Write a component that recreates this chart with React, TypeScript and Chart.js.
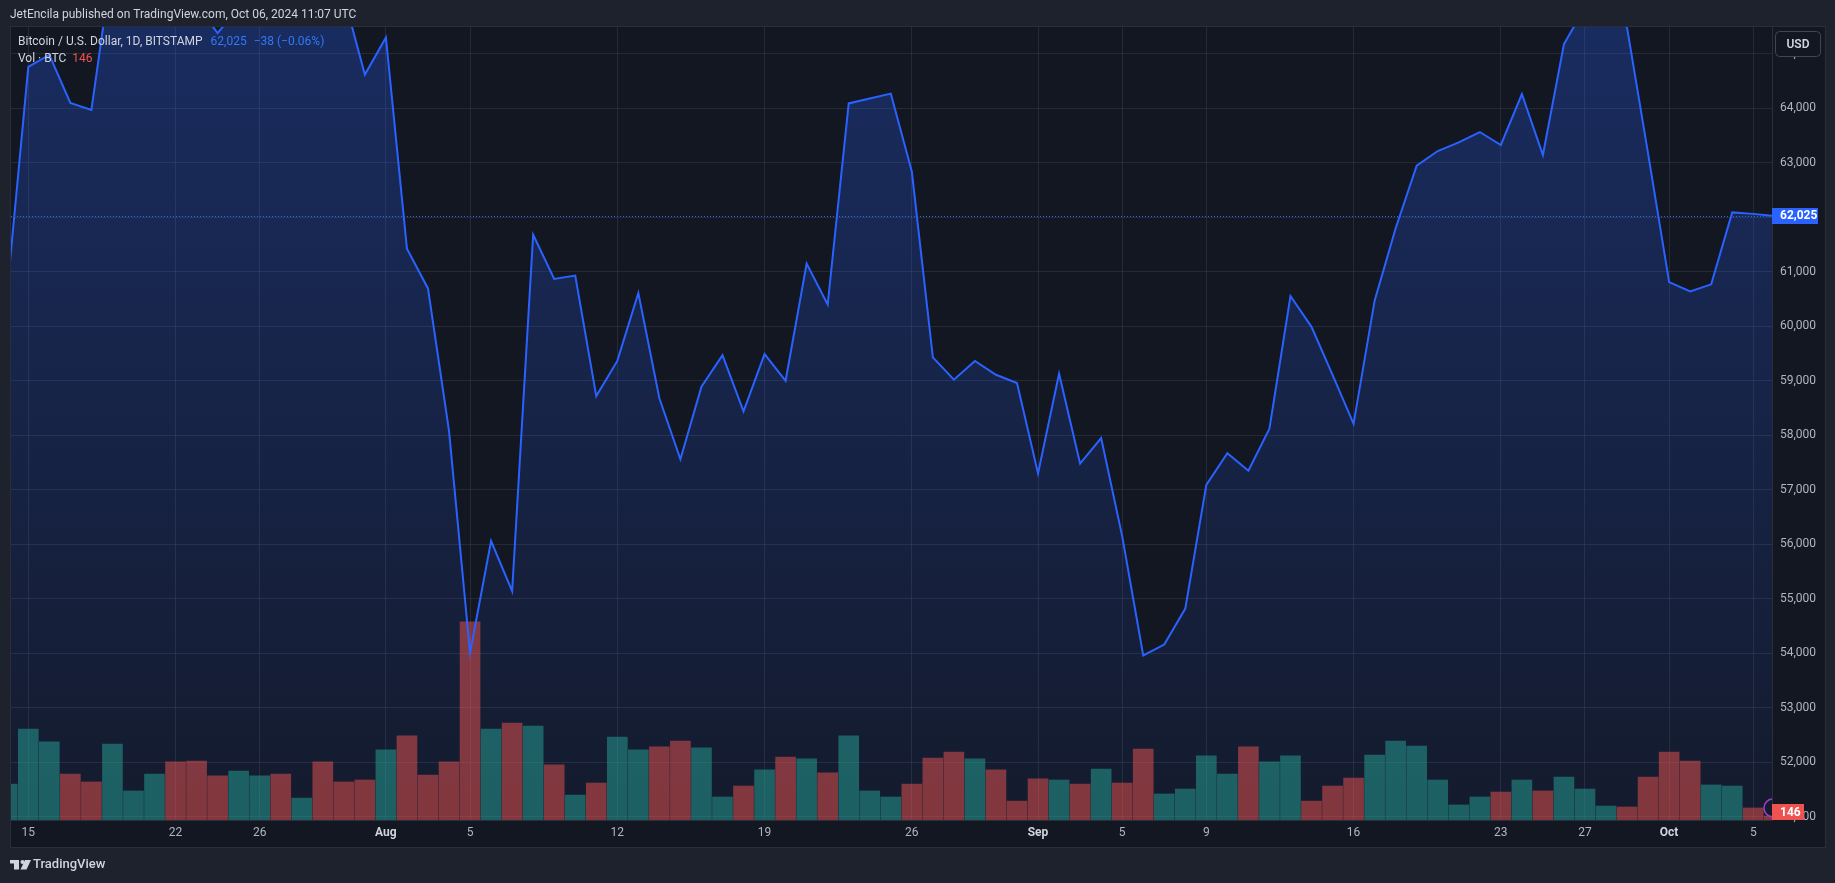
import React, { useEffect, useRef } from 'react';
import { Chart, registerables } from 'chart.js';

Chart.register(...registerables);

// ---------- data ----------
const dates = [
  'Jul 14', 'Jul 15', 'Jul 16', 'Jul 17', 'Jul 18', 'Jul 19', 'Jul 20', 'Jul 21', 'Jul 22', 'Jul 23',
  'Jul 24', 'Jul 25', 'Jul 26', 'Jul 27', 'Jul 28', 'Jul 29', 'Jul 30', 'Jul 31',
  'Aug 1', 'Aug 2', 'Aug 3', 'Aug 4', 'Aug 5', 'Aug 6', 'Aug 7', 'Aug 8', 'Aug 9', 'Aug 10',
  'Aug 11', 'Aug 12', 'Aug 13', 'Aug 14', 'Aug 15', 'Aug 16', 'Aug 17', 'Aug 18', 'Aug 19', 'Aug 20',
  'Aug 21', 'Aug 22', 'Aug 23', 'Aug 24', 'Aug 25', 'Aug 26', 'Aug 27', 'Aug 28', 'Aug 29', 'Aug 30', 'Aug 31',
  'Sep 1', 'Sep 2', 'Sep 3', 'Sep 4', 'Sep 5', 'Sep 6', 'Sep 7', 'Sep 8', 'Sep 9', 'Sep 10',
  'Sep 11', 'Sep 12', 'Sep 13', 'Sep 14', 'Sep 15', 'Sep 16', 'Sep 17', 'Sep 18', 'Sep 19', 'Sep 20',
  'Sep 21', 'Sep 22', 'Sep 23', 'Sep 24', 'Sep 25', 'Sep 26', 'Sep 27', 'Sep 28', 'Sep 29', 'Sep 30',
  'Oct 1', 'Oct 2', 'Oct 3', 'Oct 4', 'Oct 5', 'Oct 6',
];

const closes = [
  60650, 64760, 64980, 64100, 63970, 66700, 67150, 68150, 67550, 65900,
  65380, 65850, 67900, 67850, 68250, 66800, 66050, 64620,
  65300, 61425, 60695, 58080, 54010, 56060, 55140, 61680, 60870, 60930,
  58720, 59365, 60610, 58680, 57560, 58890, 59470, 58440, 59490, 59000,
  61150, 60400, 64090, 64180, 64270, 62840, 59430, 59020, 59365, 59110, 58960,
  57300, 59130, 57480, 57950, 56150, 53960, 54160, 54820, 57090, 57670,
  57350, 58120, 60555, 59990, 59110, 58210, 60470, 61800, 62947, 63216,
  63376, 63565, 63327, 64262, 63143, 65180, 65850, 65900, 65480, 63170,
  60810, 60640, 60770, 62090, 62063, 62025,
];

const volumes = [
  1310, 3320, 2850, 1680, 1390, 2770, 1060, 1680, 2120, 2150,
  1610, 1790, 1610, 1680, 800, 2120, 1390, 1460,
  2560, 3070, 1640, 2120, 7230, 3320, 3540, 3430, 2010, 910,
  1350, 3030, 2560, 2670, 2880, 2630, 840, 1240, 1830, 2300,
  2230, 1720, 3070, 1060, 840, 1310, 2260, 2480, 2230, 1830, 690,
  1500, 1460, 1310, 1860, 1350, 2590, 950, 1130, 2340, 1680,
  2670, 2120, 2340, 690, 1240, 1530, 2370, 2880, 2700, 1460,
  550, 840, 1020, 1460, 1060, 1570, 1130, 510, 475, 1570,
  2480, 2150, 1280, 1240, 440, 146,
];

// 1 = up day (teal volume bar), 0 = down day (red volume bar)
const volumeUp = [
  1, 1, 1, 0, 0, 1, 1, 1, 0, 0,
  0, 1, 1, 0, 1, 0, 0, 0,
  1, 0, 0, 0, 0, 1, 0, 1, 0, 1,
  0, 1, 1, 0, 0, 1, 1, 0, 1, 0,
  1, 0, 1, 1, 1, 0, 0, 0, 1, 0, 0,
  0, 1, 0, 1, 0, 0, 1, 1, 1, 1,
  0, 1, 1, 0, 0, 0, 1, 1, 1, 1,
  1, 1, 0, 1, 0, 1, 1, 1, 0, 0,
  0, 0, 1, 1, 0, 0,
];

const priceTicks = [
  51000, 52000, 53000, 54000, 55000, 56000, 57000, 58000,
  59000, 60000, 61000, 62000, 63000, 64000, 65000,
];

const timeTickDates = [
  'Jul 15', 'Jul 22', 'Jul 26', 'Aug 1', 'Aug 5', 'Aug 12', 'Aug 19', 'Aug 26',
  'Sep 1', 'Sep 5', 'Sep 9', 'Sep 16', 'Sep 23', 'Sep 27', 'Oct 1', 'Oct 5',
];
const timeTickLabels = [
  '15', '22', '26', 'Aug', '5', '12', '19', '26',
  'Sep', '5', '9', '16', '23', '27', 'Oct', '5',
];
const monthLabels = ['Aug', 'Sep', 'Oct'];

const lastPrice = 62025;
const lastVolume = 146;
const headerText = 'JetEncila published on TradingView.com, Oct 06, 2024 11:07 UTC';
const legendTitle = 'Bitcoin / U.S. Dollar, 1D, BITSTAMP';
const legendValue = '62,025';
const legendChange = '\u221238 (\u22120.06%)';
const volLegend = 'Vol \u00b7 BTC';

// ---------- style ----------
const W = 1835;
const H = 883;
const FONT = 'Roboto, "Noto Sans", sans-serif';
const BG_OUTER = '#1e222d';
const BG_PANE = '#131722';
const BORDER = '#2a2e39';
const GRID = 'rgba(54,58,69,0.55)';
const BLUE = '#2962ff';
const TEXT = '#b2b5be';
const TEXT_LIGHT = '#d1d4dc';
const RED = '#ef5350';

const X_MIN = 0.178;
const X_MAX = 83.89;
const Y_MIN = 50941;
const Y_MAX = 65492;
const VOL_MAX = 28945;

export default function App() {
  const ref = useRef<HTMLCanvasElement>(null);

  useEffect(() => {
    document.body.style.margin = '0';
    document.body.style.background = BG_OUTER;
    const canvas = ref.current;
    if (!canvas) return;

    const linePoints = closes.map((v, i) => ({ x: i, y: v }));
    const volPoints = volumes.map((v, i) => ({ x: i, y: v }));
    const volColors = volumeUp.map((u) => (u ? 'rgba(38,166,154,0.5)' : 'rgba(239,83,80,0.5)'));
    const tickIdx = timeTickDates.map((d) => dates.indexOf(d));

    const decor = {
      id: 'decor',
      beforeDraw(chart: any) {
        const c = chart.ctx as CanvasRenderingContext2D;
        c.save();
        c.fillStyle = BG_OUTER;
        c.fillRect(0, 0, W, H);
        c.fillStyle = BG_PANE;
        c.fillRect(10, 27, 1815, 820);
        c.strokeStyle = BORDER;
        c.lineWidth = 1;
        c.strokeRect(10.5, 26.5, 1815, 821);
        c.restore();
      },
      afterDatasetsDraw(chart: any) {
        const c = chart.ctx as CanvasRenderingContext2D;
        const ca = chart.chartArea;
        const y = Math.round(chart.scales.y.getPixelForValue(lastPrice)) + 0.5;
        c.save();
        c.beginPath();
        c.rect(ca.left, ca.top, ca.right - ca.left, ca.bottom - ca.top);
        c.clip();
        c.strokeStyle = BLUE;
        c.lineWidth = 1;
        c.setLineDash([1, 2]);
        c.beginPath();
        c.moveTo(ca.left, y);
        c.lineTo(ca.right, y);
        c.stroke();
        c.setLineDash([]);
        // realtime marker circle (partly hidden)
        c.strokeStyle = '#9b3fc4';
        c.lineWidth = 1.5;
        c.beginPath();
        c.arc(ca.right + 1, 808, 9, 0, Math.PI * 2);
        c.stroke();
        c.restore();
      },
      afterDraw(chart: any) {
        const c = chart.ctx as CanvasRenderingContext2D;
        c.save();
        c.textBaseline = 'middle';
        // header
        c.font = `12px ${FONT}`;
        c.fillStyle = TEXT_LIGHT;
        c.textAlign = 'left';
        c.fillText(headerText, 10, 15);
        // legend line 1
        let x = 18;
        c.fillStyle = TEXT_LIGHT;
        c.fillText(legendTitle, x, 42);
        x += c.measureText(legendTitle).width + 8;
        c.fillStyle = '#3179f5';
        c.fillText(legendValue, x, 42);
        x += c.measureText(legendValue).width + 7;
        c.fillText(legendChange, x, 42);
        // legend line 2
        x = 18;
        c.fillStyle = TEXT_LIGHT;
        c.fillText(volLegend, x, 59);
        x += c.measureText(volLegend).width + 6;
        c.fillStyle = RED;
        c.fillText(String(lastVolume), x, 59);

        // USD box
        c.fillStyle = BG_PANE;
        c.strokeStyle = '#434651';
        c.lineWidth = 1;
        c.beginPath();
        (c as any).roundRect(1775.5, 31.5, 45, 25, 4);
        c.fill();
        c.stroke();
        c.fillStyle = TEXT_LIGHT;
        c.font = `600 12px ${FONT}`;
        c.textAlign = 'center';
        c.fillText('USD', 1798, 44.5);

        // last price label
        const ca = chart.chartArea;
        const yp = chart.scales.y.getPixelForValue(lastPrice);
        c.fillStyle = BLUE;
        c.fillRect(ca.right, Math.round(yp - 8), 46, 16);
        c.fillStyle = '#ffffff';
        c.font = `bold 12px ${FONT}`;
        c.textAlign = 'left';
        c.fillText(lastPrice.toLocaleString('en-US'), ca.right + 8, yp + 0.5);

        // last volume label
        let yv = chart.scales.yv.getPixelForValue(lastVolume);
        yv = Math.min(yv, ca.bottom - 8);
        c.fillStyle = RED;
        c.fillRect(ca.right, Math.round(yv - 8), 32, 16);
        c.fillStyle = '#ffffff';
        c.fillText(String(lastVolume), ca.right + 8, yv + 0.5);

        // TradingView logo
        c.fillStyle = TEXT_LIGHT;
        c.fillRect(10, 860, 9, 3.5);
        c.fillRect(14, 860, 5, 9.5);
        c.beginPath();
        c.arc(22.5, 862, 2, 0, Math.PI * 2);
        c.fill();
        c.beginPath();
        c.moveTo(25, 860);
        c.lineTo(31, 860);
        c.lineTo(26.5, 869.5);
        c.lineTo(20.5, 869.5);
        c.closePath();
        c.fill();
        c.font = `500 13px ${FONT}`;
        c.fillText('TradingView', 33, 865);
        c.restore();
      },
    };

    const chart = new Chart(canvas, {
      type: 'line',
      data: {
        datasets: [
          {
            type: 'line',
            data: linePoints,
            yAxisID: 'y',
            borderColor: BLUE,
            borderWidth: 2,
            pointRadius: 0,
            tension: 0,
            fill: 'start',
            clip: 0,
            order: 0,
            backgroundColor: (ctx: any) => {
              const ca = ctx.chart.chartArea;
              if (!ca) return 'rgba(41,98,255,0.2)';
              const g = ctx.chart.ctx.createLinearGradient(0, ca.top, 0, ca.bottom);
              g.addColorStop(0, 'rgba(41,98,255,0.28)');
              g.addColorStop(1, 'rgba(41,98,255,0.05)');
              return g;
            },
          } as any,
          {
            type: 'bar',
            data: volPoints,
            yAxisID: 'yv',
            backgroundColor: volColors,
            borderWidth: 0,
            barThickness: 20,
            clip: 0,
            order: 1,
          } as any,
        ],
      },
      options: {
        animation: false,
        responsive: false,
        devicePixelRatio: 1,
        events: [],
        layout: { padding: { left: 11, top: 27, right: 10, bottom: 36 } },
        plugins: {
          legend: { display: false },
          tooltip: { enabled: false },
          filler: { drawTime: 'beforeDatasetsDraw' },
        } as any,
        scales: {
          x: {
            type: 'linear',
            min: X_MIN,
            max: X_MAX,
            offset: false,
            afterFit: (s: any) => {
              s.height = 27;
            },
            afterBuildTicks: (s: any) => {
              s.ticks = tickIdx.map((v) => ({ value: v }));
            },
            grid: { color: GRID, drawTicks: false, lineWidth: 1, offset: false },
            border: { display: true, color: BORDER },
            ticks: {
              autoSkip: false,
              maxRotation: 0,
              padding: 6,
              color: (ctx: any) => (monthLabels.includes(timeTickLabels[ctx.index]) ? TEXT_LIGHT : TEXT),
              font: (ctx: any) =>
                monthLabels.includes(timeTickLabels[ctx.index])
                  ? { family: FONT, size: 12, weight: 'bold' }
                  : { family: FONT, size: 12 },
              callback: (_v: any, i: number) => timeTickLabels[i],
            },
          } as any,
          y: {
            type: 'linear',
            position: 'right',
            min: Y_MIN,
            max: Y_MAX,
            afterFit: (s: any) => {
              s.width = 53;
            },
            afterBuildTicks: (s: any) => {
              s.ticks = priceTicks.map((v) => ({ value: v }));
            },
            grid: { color: GRID, drawTicks: false, lineWidth: 1, offset: false },
            border: { display: true, color: BORDER },
            ticks: {
              padding: 8,
              color: TEXT,
              font: { family: FONT, size: 12 },
              callback: (v: any) => Number(v).toLocaleString('en-US'),
            },
          } as any,
          yv: {
            type: 'linear',
            display: false,
            min: 0,
            max: VOL_MAX,
          } as any,
        },
      },
      plugins: [decor as any],
    });

    return () => chart.destroy();
  }, []);

  return (
    <div style={{ position: 'relative', width: W, height: H, background: BG_OUTER }}>
      <canvas ref={ref} width={W} height={H} style={{ display: 'block', width: W, height: H }} />
    </div>
  );
}
